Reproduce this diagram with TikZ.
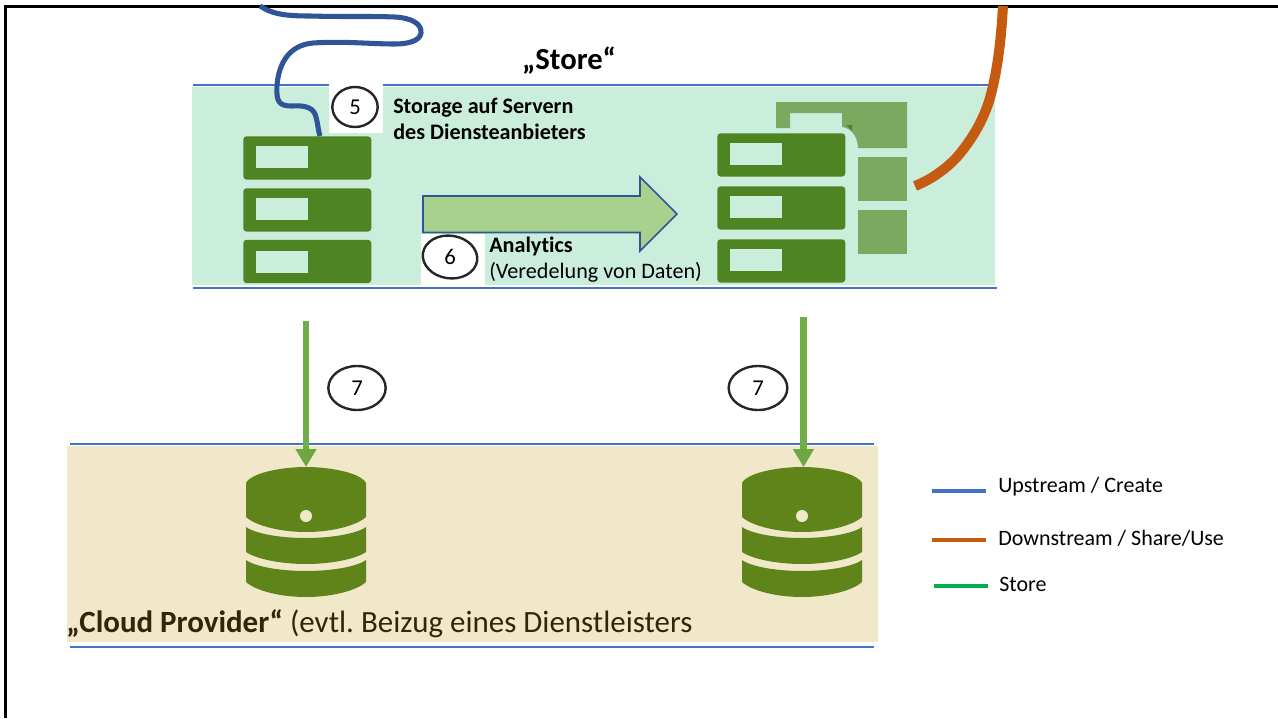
\documentclass[tikz,border=0pt]{standalone}
\usepackage{fontspec}
\setmainfont{Carlito}[Ligatures=NoCommon]
\usetikzlibrary{arrows.meta}
\usetikzlibrary{shapes.geometric}

\definecolor{bandgreen}{RGB}{203,238,220}
\definecolor{bandsand}{RGB}{241,231,201}
\definecolor{srvgreen}{RGB}{78,132,33}
\definecolor{docgreen}{RGB}{125,168,95}
\definecolor{dbgreen}{RGB}{95,132,26}
\definecolor{lineblue}{RGB}{68,114,196}
\definecolor{curveblue}{RGB}{47,85,151}
\definecolor{lineorange}{RGB}{197,90,17}
\definecolor{arrowgreen}{RGB}{112,173,71}
\definecolor{storegreen}{RGB}{0,176,80}
\definecolor{shaftgreen}{RGB}{169,209,142}
\definecolor{cloudtext}{RGB}{50,38,8}

\tikzset{
  srvunit/.style={fill=srvgreen,rounded corners=2.5pt,minimum width=96pt,minimum height=32.5pt,inner sep=0pt,anchor=north west},
  srvslot/.style={fill=bandgreen,minimum width=38.5pt,minimum height=16pt,inner sep=0pt,anchor=north west},
  bandline/.style={draw=lineblue,line width=1.6pt},
  handring/.style={draw=black!85,ellipse,line width=1.8pt,inner sep=0pt,font=\fontsize{17}{17}\selectfont},
  whitepatch/.style={fill=white,inner sep=0pt,anchor=north west},
  legendline/.style={line width=3pt},
  legendtext/.style={anchor=west,inner sep=0pt,font=\fontsize{16.5}{19}\selectfont},
  downarrow/.style={draw=arrowgreen,line width=5.2pt,-{Triangle[length=13.5pt,width=15pt,color=arrowgreen!85!dbgreen]}},
}

% one disk stack, #1 = name, #2 = left edge
\newcommand{\dbstack}[2]{
  \begin{scope}[shift={(#2,0)}]
    \fill[dbgreen] (0,483) .. controls (5,473) and (35,467) .. (60,467) .. controls (85,467) and (115,473) .. (120,483) -- (120,517) .. controls (110,526) and (85,532) .. (60,532) .. controls (35,532) and (10,526) .. (0,517) -- cycle;
    \fill[dbgreen] (0,527) .. controls (10,534) and (35,538) .. (60,538) .. controls (85,538) and (110,534) .. (120,527) -- (120,552) .. controls (110,559) and (85,564) .. (60,564) .. controls (35,564) and (10,559) .. (0,552) -- cycle;
    \fill[dbgreen] (0,560) .. controls (10,567) and (35,571) .. (60,571) .. controls (85,571) and (110,567) .. (120,560) -- (120,582) .. controls (110,591) and (85,597) .. (60,597) .. controls (35,597) and (10,591) .. (0,582) -- cycle;
    \fill[bandsand] (60,516) circle [radius=6];
    \coordinate (#1) at (60,467);
  \end{scope}
}

\begin{document}
\frenchspacing
\begin{tikzpicture}[x=0.75pt,y=0.75pt,yscale=-1,xscale=1]
\useasboundingbox (0,0) rectangle (1278,718);

%Shape: Rectangle
\fill[bandgreen] (192,87) rectangle (995,285);
\fill[bandsand] (67,446) rectangle (878,642);
%Straight Lines
\draw[bandline] (193,85) -- (997,85);
\draw[bandline] (193,288) -- (997,288);
\draw[bandline] (70,444) -- (874,444);
\draw[bandline] (70,647) -- (874,647);
%Frame
\draw[black,line width=2.2pt] (5.5,718) -- (5.5,6.5) -- (1278,6.5);

%Shape: document behind the right stack
\fill[docgreen] (776,102) -- (907,102) -- (907,148) -- (858,148) .. controls (858,138) and (852,128) .. (842,127) -- (842,113) -- (790,113) -- (790,128) -- (776,128) -- cycle;
\fill[srvgreen] (846,125) -- (852,125) -- (852,131) -- cycle;
\fill[docgreen] (858,157) rectangle (907,201);
\fill[docgreen] (858,210) rectangle (907,254);

%Left servers
\node[srvunit] (srvA1) at (243,136) {};
\node[srvunit] (srvA2) at (243,188) {};
\node[srvunit] (srvA3) at (243,239.5) {};
\node[srvslot] at (256,146) {};
\node[srvslot] at (256,198) {};
\node[srvslot] at (256,251) {};
%Right servers
\node[srvunit] (srvB1) at (717,133) {};
\node[srvunit] (srvB2) at (717,186) {};
\node[srvunit] (srvB3) at (717,239) {};
\node[srvslot] at (730,143) {};
\node[srvslot] at (730,196) {};
\node[srvslot] at (730,249) {};

%Disk stacks
\dbstack{dbA}{246}
\dbstack{dbB}{742}

%Block arrow
\draw[draw=curveblue,fill=shaftgreen,line width=1.2pt] (423,196) -- (640,196) -- (640,177) -- (677,214) -- (640,251) -- (640,232.5) -- (423,232.5) -- cycle;

%White patches under the marks
\node[whitepatch,minimum width=40.5pt,minimum height=37.5pt] at (329,83) {};
\node[whitepatch,minimum width=47.5pt,minimum height=39.5pt] at (421,233.5) {};

%Marks
\node[handring,minimum width=34pt,minimum height=30pt] (markfive) at (355,107) {5};
\node[handring,minimum width=41pt,minimum height=32pt,rotate=-8] (marksix) at (450,257) {\rotatebox{8}{6}};
\node[handring,minimum width=43pt,minimum height=33pt] (marksevenA) at (357,388) {7};
\node[handring,minimum width=44pt,minimum height=33pt] (marksevenB) at (758,388) {7};

%Curve Lines
\coordinate (blueStart) at (260,6);
\coordinate (blueEnd) at (320,136);
\draw[curveblue,line width=3.8pt] (blueStart) .. controls (272,14) and (285,16) .. (310,16) .. controls (345,17) and (370,16) .. (395,17) .. controls (412,18) and (422,24) .. (421,33) .. controls (420,41) and (408,44) .. (395,44) .. controls (370,44) and (345,41) .. (313,43) .. controls (290,45) and (279,62) .. (277,85) .. controls (276,102) and (279,106) .. (292,106) .. controls (306,105) and (314,108) .. (316,117) .. controls (318,124) and (318,130) .. (blueEnd);
\coordinate (orangeStart) at (1003,6);
\coordinate (orangeEnd) at (915,186);
\draw[lineorange,line width=7.5pt] (orangeStart) .. controls (1001,40) and (998,68) .. (990,98) .. controls (983,122) and (970,142) .. (957,157) .. controls (945,170) and (930,180) .. (orangeEnd);

%Straight Lines
\coordinate (dropA) at (306,321);
\coordinate (dropB) at (803.5,317);
\draw[downarrow] (dropA) -- (dropA |- dbA);
\draw[downarrow] (dropB) -- (dropB |- dbB);

%Legend
\draw[legendline,lineblue] (932,491) -- (986,491);
\draw[legendline,lineorange] (932,539.5) -- (986,539.5);
\draw[legendline,storegreen] (934,585.5) -- (988,585.5);

% Text Node
\node[inner sep=0pt,font=\bfseries\fontsize{23}{27}\selectfont] (storetitle) at (569,61) {„Store“};
% Text Node
\node[anchor=north west,inner sep=0pt,align=left,font=\fontsize{16.6}{19.5}\selectfont\bfseries] (storagetext) at (393,98) {Storage auf Servern\\des Diensteanbieters};
% Text Node
\node[anchor=north west,inner sep=0pt,align=left,font=\fontsize{16.6}{20}\selectfont] (analyticstext) at (489,236.5) {\textbf{Analytics}\\(Veredelung von Daten)};
% Text Node
\node[anchor=west,inner sep=0pt,text=cloudtext,font=\fontsize{23.2}{27}\selectfont] (cloudtitle) at (66,624) {\textbf{„Cloud Provider“} (evtl. Beizug eines Dienstleisters};
% Text Node
\node[legendtext] (legendup) at (998,487) {Upstream / Create};
\node[legendtext] (legenddown) at (998,538) {Downstream / Share/Use};
\node[legendtext] (legendstore) at (999,584) {Store};

\end{tikzpicture}
\end{document}
